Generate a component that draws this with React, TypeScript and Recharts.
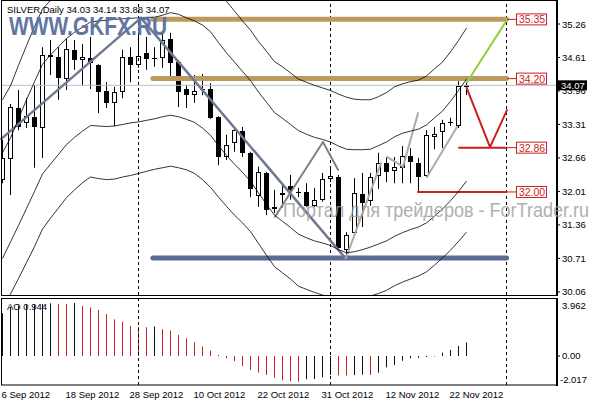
import {
  ComposedChart,
  Bar,
  Line,
  XAxis,
  YAxis,
  ReferenceLine,
  ReferenceDot,
} from 'recharts';

const dates = [
  '6 Sep 2012', '7 Sep 2012', '10 Sep 2012', '11 Sep 2012', '12 Sep 2012', '13 Sep 2012', '14 Sep 2012',
  '17 Sep 2012', '18 Sep 2012', '19 Sep 2012', '20 Sep 2012', '21 Sep 2012', '24 Sep 2012', '25 Sep 2012',
  '26 Sep 2012', '27 Sep 2012', '28 Sep 2012', '1 Oct 2012', '2 Oct 2012', '3 Oct 2012', '4 Oct 2012',
  '5 Oct 2012', '8 Oct 2012', '9 Oct 2012', '10 Oct 2012', '11 Oct 2012', '12 Oct 2012', '15 Oct 2012',
  '16 Oct 2012', '17 Oct 2012', '18 Oct 2012', '19 Oct 2012', '22 Oct 2012', '23 Oct 2012', '24 Oct 2012',
  '25 Oct 2012', '26 Oct 2012', '28 Oct 2012', '29 Oct 2012', '30 Oct 2012', '31 Oct 2012', '1 Nov 2012',
  '2 Nov 2012', '5 Nov 2012', '6 Nov 2012', '7 Nov 2012', '8 Nov 2012', '9 Nov 2012', '12 Nov 2012',
  '13 Nov 2012', '14 Nov 2012', '15 Nov 2012', '16 Nov 2012', '19 Nov 2012', '20 Nov 2012', '21 Nov 2012',
  '22 Nov 2012', '23 Nov 2012', '26 Nov 2012',
];

const opens = [
  32.23, 32.64, 33.63, 33.34, 33.46, 33.24, 34.66, 34.62, 34.19, 34.76, 34.56, 34.6, 34.46, 33.96, 33.73,
  33.94, 34.62, 34.46, 34.7, 34.6, 34.6, 34.97, 34.52, 34.0, 33.88, 33.97, 34.0, 33.46, 32.68, 32.95,
  33.18, 32.76, 31.92, 32.37, 31.67, 31.95, 32.12, 32.0, 32.0, 31.73, 31.85, 32.25, 32.29, 30.87, 31.21,
  31.96, 31.83, 32.31, 32.56, 32.41, 32.47, 32.7, 32.56, 32.31, 33.07, 33.16, 33.33, 33.28, 34.03,
];
const highs = [
  33.01, 33.71, 33.98, 33.82, 34.08, 34.81, 34.95, 34.81, 34.97, 34.95, 34.87, 35.01, 34.48, 34.13, 34.04,
  34.76, 34.81, 35.1, 35.01, 34.81, 35.09, 35.09, 34.56, 34.08, 34.27, 34.29, 34.11, 33.47, 33.11, 33.26,
  33.26, 32.78, 32.49, 32.39, 32.04, 32.15, 32.33, 32.08, 32.17, 32.08, 32.37, 32.49, 32.33, 31.22, 32.27,
  32.37, 32.37, 32.76, 32.68, 32.68, 32.89, 32.85, 32.66, 33.2, 33.26, 33.4, 33.44, 34.15, 34.14,
];
const lows = [
  32.17, 31.94, 33.2, 33.24, 32.47, 32.66, 34.27, 33.79, 33.98, 34.37, 34.06, 34.0, 33.53, 33.63, 33.28,
  33.82, 34.13, 34.41, 34.37, 34.43, 34.41, 34.17, 33.65, 33.63, 33.73, 33.88, 33.42, 32.52, 32.62, 32.78,
  32.68, 31.9, 31.71, 31.55, 31.59, 31.7, 31.85, 31.9, 31.71, 31.71, 31.81, 32.19, 30.84, 30.68, 31.17,
  31.32, 31.73, 32.06, 32.19, 32.17, 32.17, 32.17, 32.0, 32.29, 32.83, 32.85, 33.28, 33.24, 33.88,
];
const closes = [
  32.66, 33.65, 33.26, 33.47, 33.26, 34.66, 34.62, 34.21, 34.77, 34.56, 34.62, 34.5, 33.94, 33.73, 33.94,
  34.62, 34.46, 34.64, 34.58, 34.58, 34.95, 34.5, 33.94, 33.88, 33.96, 34.0, 33.44, 32.68, 32.91, 33.2,
  32.76, 32.06, 32.39, 31.65, 31.71, 31.98, 32.04, 31.99, 31.73, 31.85, 32.25, 32.31, 30.91, 31.17, 31.98,
  31.79, 32.29, 32.56, 32.39, 32.49, 32.7, 32.58, 32.29, 33.11, 33.13, 33.34, 33.35, 34.06, 34.07,
];

// bollinger bands (outer upper, inner upper, inner lower, outer lower)
const bandUpper2 = [
  33.79, 34.06, 34.46, 34.84, 35.21, 35.55, 35.72, 35.86, 36.01, 36.12, 36.21, 36.31, 36.34, 36.36, 36.38,
  36.39, 36.39, 36.39, 36.39, 36.38, 36.42, 36.48, 36.44, 36.37, 36.31, 36.24, 36.12, 35.9, 35.7, 35.51,
  35.32, 35.14, 34.92, 34.73, 34.53, 34.43, 34.31, 34.19, 34.13, 34.07, 34.02, 33.97, 33.9, 33.84, 33.8,
  33.79, 33.79, 33.85, 33.93, 34.04, 34.1, 34.14, 34.17, 34.25, 34.39, 34.52, 34.72, 34.94, 35.18,
];
const bandUpper1 = [
  32.76, 33.05, 33.42, 33.79, 34.14, 34.48, 34.66, 34.82, 34.98, 35.1, 35.2, 35.3, 35.32, 35.33, 35.35,
  35.36, 35.37, 35.38, 35.39, 35.39, 35.43, 35.48, 35.45, 35.38, 35.32, 35.24, 35.11, 34.9, 34.7, 34.52,
  34.34, 34.16, 33.94, 33.74, 33.54, 33.43, 33.31, 33.19, 33.12, 33.06, 33.02, 32.97, 32.89, 32.83, 32.82,
  32.82, 32.83, 32.9, 32.97, 33.07, 33.14, 33.18, 33.22, 33.3, 33.44, 33.57, 33.76, 33.97, 34.19,
];
const bandLower1 = [
  30.71, 31.03, 31.35, 31.68, 32.01, 32.35, 32.54, 32.73, 32.92, 33.06, 33.18, 33.29, 33.28, 33.27, 33.28,
  33.31, 33.34, 33.36, 33.39, 33.42, 33.46, 33.49, 33.46, 33.41, 33.35, 33.24, 33.1, 32.9, 32.71, 32.54,
  32.38, 32.21, 31.98, 31.76, 31.55, 31.43, 31.31, 31.18, 31.11, 31.05, 31.01, 30.96, 30.88, 30.82, 30.84,
  30.88, 30.93, 30.99, 31.05, 31.14, 31.21, 31.27, 31.32, 31.4, 31.53, 31.67, 31.83, 32.01, 32.21,
];
const bandLower2 = [
  29.68, 30.02, 30.32, 30.63, 30.94, 31.28, 31.49, 31.69, 31.89, 32.04, 32.18, 32.29, 32.26, 32.24, 32.25,
  32.29, 32.32, 32.36, 32.4, 32.44, 32.47, 32.5, 32.47, 32.43, 32.36, 32.24, 32.09, 31.9, 31.72, 31.55,
  31.4, 31.23, 31.0, 30.77, 30.55, 30.43, 30.31, 30.17, 30.11, 30.05, 30.0, 29.95, 29.87, 29.81, 29.85,
  29.91, 29.98, 30.03, 30.09, 30.18, 30.25, 30.31, 30.37, 30.45, 30.58, 30.72, 30.87, 31.04, 31.22,
];

const aoValues = [
  2.97, 3.43, 3.5, 3.55, 3.59, 3.62, 3.66, 3.63, 3.6, 3.68, 3.48, 3.38, 3.2, 2.92, 2.55,
  2.39, 2.09, 2.04, 2.0, 2.06, 1.86, 1.76, 1.46, 1.23, 0.95, 0.65, 0.37, 0.07, -0.15, -0.35,
  -0.7, -0.98, -1.16, -1.32, -1.51, -1.69, -1.74, -1.78, -1.62, -1.6, -1.48, -1.32, -1.34, -1.36, -1.33,
  -1.3, -1.32, -1.16, -0.79, -0.63, -0.33, -0.16, -0.12, -0.07, -0.03, 0.23, 0.42, 0.7, 0.944,
];

const priceTicks = [30.06, 30.71, 31.36, 32.01, 32.66, 33.31, 33.96, 34.07, 34.61, 35.26];
const aoTicks = [-2.017, 0, 3.962];
const dateTicks = [0, 8, 16, 24, 32, 40, 48, 56];
const monthStarts = [17, 41, 63];
const lastClose = 34.07;

// hand drawn levels, trend lines and forecast (bar index, price)
const resistance = [35.35, 34.2];
const support = 30.72;
const targets = [
  { price: 32.86, from: 57.06 },
  { price: 32.0, from: 51.94 },
];
const tagLevels = [35.35, 34.2, 32.86, 32.0];
type Pt = { x: number; y: number };
const trendPath: Pt[] = [{ x: -0.15, y: 33.03 }, { x: 17.31, y: 35.38 }, { x: 42.94, y: 30.7 }];
const zigzagPath: Pt[] = [{ x: 34.06, y: 31.52 }, { x: 40.06, y: 32.97 }, { x: 41.94, y: 32.43 }];
const lightPaths: Pt[][] = [
  [{ x: 42.94, y: 30.72 }, { x: 47.31, y: 32.56 }],
  [{ x: 48.06, y: 32.68 }, { x: 50.06, y: 32.49 }, { x: 51.94, y: 33.53 }],
  [{ x: 53.06, y: 32.29 }, { x: 56.81, y: 33.26 }],
];
const bearPath: Pt[] = [{ x: 58.02, y: 34.02 }, { x: 60.94, y: 32.87 }, { x: 63.06, y: 33.59 }];
const bullPath: Pt[] = [{ x: 58.06, y: 34.13 }, { x: 63.06, y: 35.34 }];

const FONT = 'Liberation Sans, Arial, sans-serif';
const X_DOMAIN = [-0.1875, 69.1875];
const LEVEL_START = 18.8;
const LEVEL_END = 63;
const TAG_X = 66.19;

const data = dates.map((d, i) => ({
  i,
  date: d,
  open: opens[i],
  high: highs[i],
  low: lows[i],
  close: closes[i],
  range: [lows[i], highs[i]],
  u2: bandUpper2[i],
  u1: bandUpper1[i],
  l1: bandLower1[i],
  l2: bandLower2[i],
  ao: aoValues[i],
  aoColor: i > 0 && aoValues[i] < aoValues[i - 1] ? '#cc1f2a' : '#111111',
}));

const toSegments = (path: Pt[]) => path.slice(1).map((p, k) => [path[k], p]);

const Candle = (props: any) => {
  const { x, y, width, height, payload } = props;
  if (height == null || !payload) return null;
  const { open, close, high, low } = payload;
  const k = height / (high - low);
  const py = (p: number) => y + (high - p) * k;
  const c = Math.floor(x + width / 2);
  const top = Math.round(py(Math.max(open, close)));
  const bot = Math.round(py(Math.min(open, close)));
  let body;
  if (bot - top < 2) {
    body = <rect x={c - 2} y={top} width={5} height={1} fill="#000" />;
  } else if (close >= open) {
    body = (
      <rect x={c - 1.5} y={top + 0.5} width={4} height={bot - top - 1} fill="#fff" stroke="#000" strokeWidth={1} />
    );
  } else {
    body = <rect x={c - 2} y={top} width={5} height={bot - top} fill="#000" />;
  }
  return (
    <g>
      <rect x={c} y={y} width={1} height={height} fill="#000" />
      {body}
    </g>
  );
};

const AoBar = (props: any) => {
  const { x, y, width, height, payload } = props;
  if (height == null || !payload) return null;
  const c = Math.floor(x + width / 2);
  const top = Math.min(y, y + height);
  return <rect x={c} y={top} width={1} height={Math.abs(height)} fill={payload.aoColor} />;
};

const PriceTick = (props: any) => {
  const { x, y, payload } = props;
  const v = payload.value;
  if (v === lastClose) {
    return (
      <g>
        <rect x={x + 1} y={y - 5} width={30} height={10} fill="#000" />
        <text x={x + 5} y={y + 3.5} fill="#fff" fontSize={9.5} fontFamily={FONT}>
          {v.toFixed(2)}
        </text>
      </g>
    );
  }
  return (
    <g>
      <line x1={x + 1} x2={x + 4} y1={y} y2={y} stroke="#000" />
      <text x={x + 6} y={y + 3.5} fill="#000" fontSize={9.5} fontFamily={FONT}>
        {v.toFixed(2)}
      </text>
    </g>
  );
};

const AoTick = (props: any) => {
  const { x, y, payload } = props;
  const v = payload.value;
  const dy = v > 3 ? 6 : v < -2 ? -6 : 0;
  const label = v === 0 ? '0.00' : v.toFixed(3);
  return (
    <g>
      {v === 0 && <line x1={x + 1} x2={x + 4} y1={y} y2={y} stroke="#000" />}
      <text x={v < 0 ? x + 4 : x + 6} y={y + dy + 3.5} fill="#000" fontSize={9.5} fontFamily={FONT}>
        {label}
      </text>
    </g>
  );
};

const DateTick = (props: any) => {
  const { x, y, payload } = props;
  return (
    <text x={x - 1} y={y + 13} fill="#000" fontSize={9.5} fontFamily={FONT} textAnchor="start">
      {dates[payload.value]}
    </text>
  );
};

const LevelTag = ({ cx, cy, text }: any) => (
  <g>
    <line x1={cx - 25} x2={cx - 16} y1={cy} y2={cy} stroke="#cc1f1f" strokeWidth={1} />
    <rect x={cx - 15.5} y={cy - 5.5} width={30} height={11} fill="#fff" stroke="#cc1f1f" strokeWidth={1} />
    <text x={cx} y={cy + 4} fill="#cc1f1f" fontSize={10.5} fontFamily={FONT} textAnchor="middle">
      {text}
    </text>
  </g>
);

const seg = (s: Pt[], key: string, stroke: string, w: number) => (
  <ReferenceLine
    key={key}
    segment={s}
    stroke={stroke}
    strokeWidth={w}
    strokeLinecap="round"
    ifOverflow="visible"
  />
);

const App = () => (
  <div style={{ position: 'fixed', left: 0, top: 0, width: 596, height: 400, background: '#fff' }}>
    <div style={{ position: 'absolute', left: 0, top: 0 }}>
      <ComposedChart width={596} height={297} data={data} margin={{ top: 0, right: 0, bottom: 2, left: 1 }}>
        <XAxis type="number" dataKey="i" domain={X_DOMAIN} allowDataOverflow hide />
        <YAxis
          orientation="right"
          width={40}
          domain={[30.0, 35.726]}
          allowDataOverflow
          ticks={priceTicks}
          interval={0}
          axisLine={false}
          tickLine={false}
          tickSize={0}
          tickMargin={0}
          tick={(p: any) => <PriceTick {...p} />}
        />
        {monthStarts.map((m) => (
          <ReferenceLine key={'m' + m} x={m} stroke="#000" strokeDasharray="3 3" ifOverflow="visible" />
        ))}
        <ReferenceLine y={lastClose} stroke="#b9bec8" />
        {resistance.map((p) =>
          seg([{ x: LEVEL_START, y: p }, { x: LEVEL_END, y: p }], 'r' + p, '#bb9a5f', 5)
        )}
        {seg([{ x: LEVEL_START, y: support }, { x: LEVEL_END, y: support }], 'sup', '#5b6b93', 5)}
        {targets.map((t) =>
          seg([{ x: t.from, y: t.price }, { x: LEVEL_END, y: t.price }], 't' + t.price, '#cc1f1f', 2)
        )}
        {toSegments(trendPath).map((s, k) => seg(s, 'tr' + k, '#6f7a92', 2.5))}
        {toSegments(zigzagPath).map((s, k) => seg(s, 'zz' + k, '#808080', 2))}
        {lightPaths.map((path, n) => toSegments(path).map((s, k) => seg(s, 'lp' + n + k, '#ababab', 2)))}
        {toSegments(bearPath).map((s, k) => seg(s, 'bear' + k, '#cc1f1f', 2))}
        {toSegments(bullPath).map((s, k) => seg(s, 'bull' + k, '#8fd13f', 2))}
        <Line dataKey="u2" stroke="#000" strokeWidth={0.8} dot={false} isAnimationActive={false} />
        <Line dataKey="u1" stroke="#000" strokeWidth={0.8} dot={false} isAnimationActive={false} />
        <Line dataKey="l1" stroke="#000" strokeWidth={0.8} dot={false} isAnimationActive={false} />
        <Line dataKey="l2" stroke="#000" strokeWidth={0.8} dot={false} isAnimationActive={false} />
        <Bar dataKey="range" barSize={5} isAnimationActive={false} shape={(p: any) => <Candle {...p} />} />
        {tagLevels.map((p) => (
          <ReferenceDot
            key={'tag' + p}
            x={TAG_X}
            y={p}
            r={0}
            ifOverflow="visible"
            shape={(sp: any) => <LevelTag {...sp} text={p.toFixed(2)} />}
          />
        ))}
      </ComposedChart>
    </div>
    <div style={{ position: 'absolute', left: 0, top: 297 }}>
      <ComposedChart width={596} height={103} data={data} margin={{ top: 2, right: 0, bottom: 0, left: 1 }}>
        <XAxis
          type="number"
          dataKey="i"
          domain={X_DOMAIN}
          allowDataOverflow
          ticks={dateTicks}
          interval={0}
          height={15}
          axisLine={false}
          tickLine={false}
          tickSize={0}
          tickMargin={0}
          tick={(p: any) => <DateTick {...p} />}
        />
        <YAxis
          orientation="right"
          width={40}
          domain={[-2.017, 3.962]}
          allowDataOverflow
          ticks={aoTicks}
          interval={0}
          axisLine={false}
          tickLine={false}
          tickSize={0}
          tickMargin={0}
          tick={(p: any) => <AoTick {...p} />}
        />
        {monthStarts.map((m) => (
          <ReferenceLine key={'am' + m} x={m} stroke="#000" strokeDasharray="3 3" ifOverflow="visible" />
        ))}
        <Bar dataKey="ao" barSize={1} isAnimationActive={false} shape={(p: any) => <AoBar {...p} />} />
      </ComposedChart>
    </div>
    <svg
      width={596}
      height={400}
      style={{ position: 'absolute', left: 0, top: 0, pointerEvents: 'none' }}
    >
      <rect x={1.5} y={0.5} width={555} height={295} fill="none" stroke="#000" />
      <line x1={557} x2={557} y1={0} y2={296} stroke="#000" strokeWidth={2} />
      <rect x={1.5} y={298.5} width={555} height={86.5} fill="none" stroke="#000" />
      <line x1={557} x2={557} y1={298} y2={386} stroke="#000" strokeWidth={2} />
      <text x={9} y={35} fontSize={25} fontWeight="bold" fontFamily={FONT} fill="#5b6f9e" textLength={158} lengthAdjust="spacingAndGlyphs" opacity={0.95}>
        WWW.GKFX.RU
      </text>
      <text x={7} y={13} fontSize={9.5} fontFamily={FONT} fill="#000">
        SILVER,Daily  34.03 34.14 33.88 34.07
      </text>
      <text x={283} y={217} fontSize={21} fontFamily={FONT} fill="#9c9c9c" opacity={0.8} textLength={306} lengthAdjust="spacingAndGlyphs">
        Портал для трейдеров - ForTrader.ru
      </text>
      <text x={7} y={310} fontSize={9.5} fontFamily={FONT} fill="#000">
        AO 0.944
      </text>
    </svg>
  </div>
);

export default App;
